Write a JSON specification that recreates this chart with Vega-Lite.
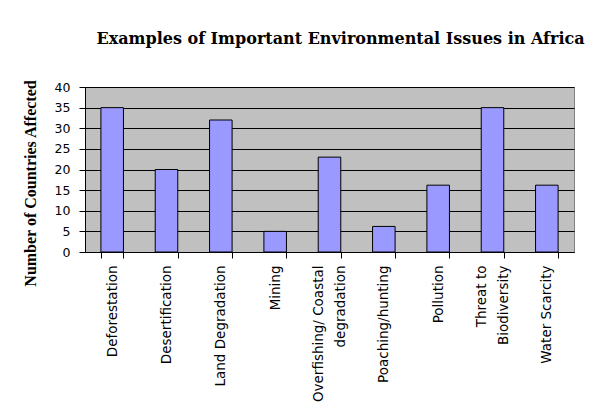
{
  "$schema": "https://vega.github.io/schema/vega-lite/v6.json",
  "autosize": "none",
  "width": 489,
  "height": 165,
  "padding": {"left": 85, "top": 87, "right": 24, "bottom": 162},
  "background": "white",
  "title": {
    "text": "Examples of Important Environmental Issues in Africa",
    "font": "DejaVu Serif",
    "fontSize": 16,
    "fontWeight": "bold",
    "color": "black",
    "anchor": "middle",
    "dx": 11,
    "offset": 32
  },
  "data": {
    "values": [
      {"issue": "Deforestation", "countries": 35},
      {"issue": "Desertification", "countries": 20},
      {"issue": "Land Degradation", "countries": 32},
      {"issue": "Mining", "countries": 5},
      {"issue": "Overfishing/ Coastal degradation", "countries": 23},
      {"issue": "Poaching/hunting", "countries": 6.2},
      {"issue": "Pollution", "countries": 16.2},
      {"issue": "Threat to Biodiversity", "countries": 35},
      {"issue": "Water Scarcity", "countries": 16.2}
    ]
  },
  "mark": {"type": "bar", "fill": "#9999ff", "stroke": "black", "strokeWidth": 1},
  "encoding": {
    "x": {
      "field": "issue",
      "type": "nominal",
      "sort": null,
      "scale": {"paddingInner": 0.585, "paddingOuter": 0.2925},
      "axis": {
        "title": null,
        "labelAngle": -90,
        "labelAlign": "right",
        "labelBaseline": "middle",
        "labelFont": "DejaVu Sans",
        "labelFontSize": 13.5,
        "labelColor": "black",
        "labelPadding": 7,
        "labelLimit": 300,
        "labelLineHeight": 22,
        "labelOffset": {"condition": {"test": "datum.value == 'Overfishing/ Coastal degradation' || datum.value == 'Threat to Biodiversity'", "value": -11}, "value": 0},
        "tickBand": "extent",
        "tickSize": 6,
        "tickColor": "black",
        "domainColor": "black",
        "grid": false,
        "labelExpr": "datum.value == 'Overfishing/ Coastal degradation' ? ['Overfishing/ Coastal', 'degradation'] : datum.value == 'Threat to Biodiversity' ? ['Threat to', 'Biodiversity'] : datum.value"
      }
    },
    "y": {
      "field": "countries",
      "type": "quantitative",
      "scale": {"domain": [0, 40], "nice": false},
      "axis": {
        "title": "Number of Countries Affected",
        "titleFont": "Liberation Serif",
        "titleFontSize": 16,
        "titleFontWeight": "bold",
        "titleColor": "black",
        "titleX": -55,
        "titleY": 96,
        "titleAngle": -90,
        "titleAlign": "center",
        "titleBaseline": "middle",
        "values": [0, 5, 10, 15, 20, 25, 30, 35, 40],
        "labelFont": "DejaVu Sans",
        "labelFontSize": 12.5,
        "labelColor": "black",
        "labelPadding": 9,
        "tickSize": 6,
        "tickColor": "black",
        "domainColor": "black",
        "gridColor": "black",
        "gridOpacity": 1
      }
    }
  },
  "config": {
    "view": {"fill": "#c0c0c0", "stroke": "#808080"},
    "axis": {"domainWidth": 1, "tickWidth": 1, "gridWidth": 1}
  }
}
